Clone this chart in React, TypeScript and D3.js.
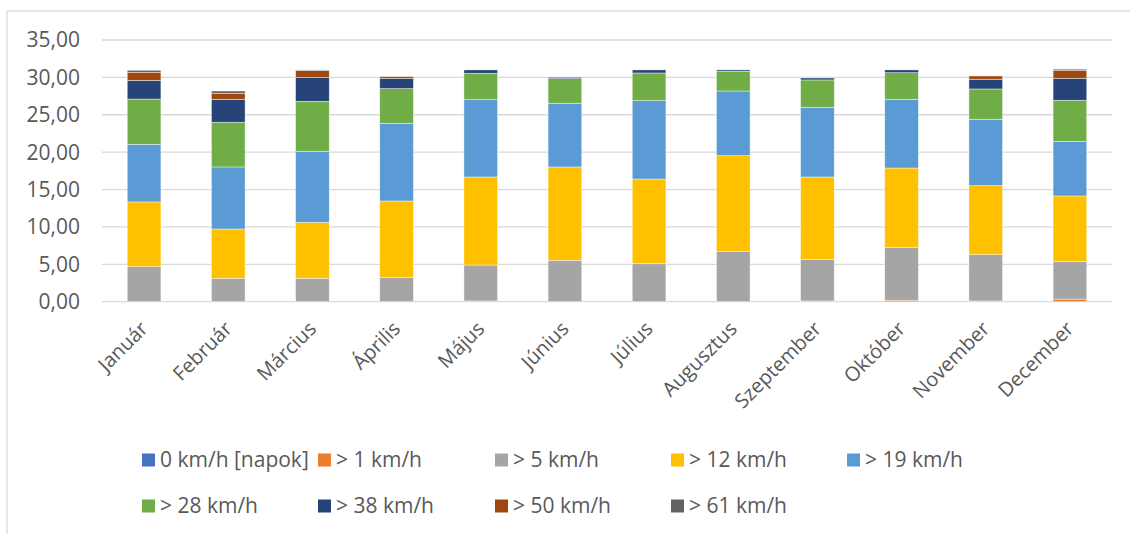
import React from "react";
import * as d3 from "d3";

const months = ["Január", "Február", "Március", "Április", "Május", "Június", "Július", "Augusztus", "Szeptember", "Október", "November", "December"];
const seriesNames = ["0 km/h [napok]", "> 1 km/h", "> 5 km/h", "> 12 km/h", "> 19 km/h", "> 28 km/h", "> 38 km/h", "> 50 km/h", "> 61 km/h"];
const seriesColors = ["#4472C4", "#ED7D31", "#A5A5A5", "#FFC000", "#5B9BD5", "#70AD47", "#264478", "#9E480E", "#636363"];
const v0 = [0, 0, 0, 0, 0, 0, 0, 0, 0, 0, 0, 0];
const v1 = [0, 0, 0, 0, 0.1, 0, 0, 0, 0.1, 0.2, 0.1, 0.35];
const v5 = [4.68, 3.13, 3.13, 3.26, 4.81, 5.54, 5.08, 6.74, 5.57, 7.08, 6.19, 5.0];
const v12 = [8.66, 6.59, 7.49, 10.21, 11.77, 12.48, 11.33, 12.79, 11.01, 10.6, 9.23, 8.79];
const v19 = [7.71, 8.3, 9.5, 10.39, 10.34, 8.52, 10.48, 8.65, 9.32, 9.19, 8.88, 7.31];
const v28 = [6.05, 5.98, 6.68, 4.64, 3.53, 3.29, 3.7, 2.64, 3.66, 3.56, 4.05, 5.49];
const v38 = [2.5, 3.07, 3.17, 1.38, 0.45, 0.18, 0.41, 0.18, 0.26, 0.37, 1.3, 2.94];
const v50 = [1.08, 0.81, 0.93, 0.22, 0, 0, 0, 0, 0, 0, 0.44, 1.07];
const v61 = [0.27, 0.3, 0.1, 0, 0, 0, 0, 0, 0, 0, 0, 0.15];
const seriesValues = [v0, v1, v5, v12, v19, v28, v38, v50, v61];
const yTicks = [0, 5, 10, 15, 20, 25, 30, 35];

const W = 1130, H = 534;
const plot = { left: 102, right: 1112, top: 40, bottom: 301.7 };
const FONT = "'Open Sans', sans-serif";
const TXT = "#595959";

export default function App() {
  const x = d3.scaleBand<string>().domain(months).range([plot.left, plot.right]).paddingInner(0.6).paddingOuter(0.3);
  const y = d3.scaleLinear().domain([0, 35]).range([plot.bottom, plot.top]);
  const table = months.map((m, i) => {
    const row: any = { month: m };
    seriesNames.forEach((s, j) => (row[s] = seriesValues[j][i]));
    return row;
  });
  const stacked = d3.stack<any>().keys(seriesNames)(table);
  const fmt = (v: number) => d3.format(".2f")(v).replace(".", ",");
  const legendCols = [142, 318, 495, 671, 847];
  const legendRows = [460, 506];

  return (
    <svg width={W} height={H} style={{ position: "absolute", left: 0, top: 0 }} fontFamily={FONT}>
      <rect x={0} y={0} width={W} height={H} fill="#fff" />
      <rect x={7} y={11} width={W + 20} height={H + 20} fill="none" stroke="#d9d9d9" strokeWidth={1.3} />
      {yTicks.map((t) => (
        <g key={t}>
          <line x1={plot.left} x2={plot.right} y1={y(t)} y2={y(t)} stroke="#d9d9d9" strokeWidth={1.3} />
          <text x={80} y={y(t)} dy="0.35em" textAnchor="end" fontSize={21} fill={TXT}>
            {fmt(t)}
          </text>
        </g>
      ))}
      {stacked.map((layer, j) => (
        <g key={layer.key} fill={seriesColors[j]}>
          {layer.map((d, i) =>
            d[1] - d[0] > 0 ? (
              <rect
                key={i}
                x={x(months[i])}
                width={x.bandwidth()}
                y={y(d[1])}
                height={y(d[0]) - y(d[1])}
                stroke="#ffffff"
                strokeOpacity={0.6}
                strokeWidth={0.7}
              />
            ) : null
          )}
        </g>
      ))}
      {months.map((m) => {
        const cx = (x(m) as number) + x.bandwidth() / 2 + 5;
        const cy = 330;
        return (
          <text key={m} x={cx} y={cy} transform={`rotate(-45 ${cx} ${cy})`} textAnchor="end" fontSize={20} fill={TXT}>
            {m}
          </text>
        );
      })}
      {seriesNames.map((s, j) => {
        const col = j % 5;
        const row = Math.floor(j / 5);
        const lx = legendCols[col];
        const ly = legendRows[row];
        return (
          <g key={s}>
            <rect x={lx} y={ly - 6.5} width={13} height={13} fill={seriesColors[j]} />
            <text x={lx + 18} y={ly} dy="0.35em" fontSize={21} fill={TXT}>
              {s}
            </text>
          </g>
        );
      })}
    </svg>
  );
}
